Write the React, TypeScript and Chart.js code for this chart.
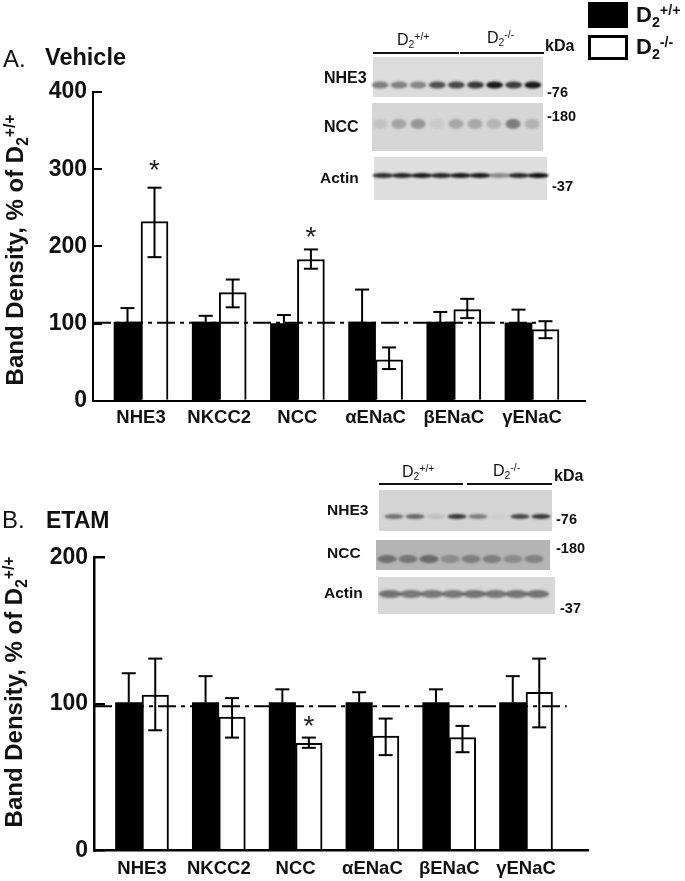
import React, { useEffect, useRef } from "react";
import { Chart, registerables } from "chart.js";

Chart.register(...registerables);

const categories = ["NHE3", "NKCC2", "NCC", "αENaC", "βENaC", "γENaC"];
const GENOTYPES = ["D2+/+", "D2-/-"];

// Panel A: Vehicle
const vehWild = [102, 102, 100, 102, 102, 101];
const vehWildUpper = [120, 110, 111, 144, 115, 118];
const vehKo = [232, 140, 183, 53, 118, 92];
const vehKoUpper = [276, 157, 196, 69, 132, 103];
const vehKoLower = [186, 121, 171, 41, 107, 81];
const vehTicks = [0, 100, 200, 300, 400];
const vehStars = [{ x: 0, y: 303 }, { x: 2, y: 216 }];

// Panel B: ETAM
const etamWild = [101, 101, 101, 101, 101, 101];
const etamWildUpper = [121, 119, 110, 108, 110, 119];
const etamKo = [106, 91, 73, 78, 77, 108];
const etamKoUpper = [131, 104, 77, 90, 85, 131];
const etamKoLower = [82, 77, 70, 65, 67, 84];
const etamTicks = [0, 100, 200];
const etamStars = [{ x: 2, y: 86.5 }];

// Western blot lane intensities (0 = no band, 1 = black)
const vehNhe3Lanes = [0.45, 0.45, 0.42, 0.68, 0.72, 0.8, 0.95, 0.78, 0.95];
const vehNccLanes = [0.1, 0.25, 0.32, 0.06, 0.24, 0.24, 0.16, 0.45, 0.18];
const vehActinLanes = [0.85, 0.9, 0.95, 0.9, 0.95, 0.95, 0.4, 0.88, 1];
const etamNhe3Lanes = [0.5, 0.55, 0.1, 0.8, 0.45, 0.03, 0.72, 0.8];
const etamNccLanes = [0.42, 0.38, 0.45, 0.25, 0.33, 0.33, 0.25, 0.3];
const etamActinLanes = [0.5, 0.48, 0.48, 0.48, 0.5, 0.48, 0.5, 0.5];

const FONT = "'Liberation Sans', Arial, sans-serif";

type Blot = { x: number; y: number; w: number; h: number; bg: string; bandY: number; bandH: number; bandW: number; first: number; step: number; lanes: number[] };

const vehBlots: Blot[] = [
  { x: 373, y: 57, w: 170, h: 40, bg: "#dcdcdc", bandY: 85, bandH: 7, bandW: 17, first: 380, step: 19.1, lanes: vehNhe3Lanes },
  { x: 372, y: 103, w: 171, h: 48, bg: "#d6d6d6", bandY: 124, bandH: 10, bandW: 15, first: 380, step: 19, lanes: vehNccLanes },
  { x: 374, y: 157, w: 173, h: 43, bg: "#dedede", bandY: 175.5, bandH: 5, bandW: 21, first: 383, step: 19.4, lanes: vehActinLanes },
];
const etamBlots: Blot[] = [
  { x: 379, y: 490, w: 173, h: 41, bg: "#d4d4d4", bandY: 516.5, bandH: 5, bandW: 19, first: 394, step: 21, lanes: etamNhe3Lanes },
  { x: 376, y: 540, w: 174, h: 30, bg: "#b4b4b4", bandY: 559, bandH: 8, bandW: 19, first: 387, step: 21, lanes: etamNccLanes },
  { x: 378, y: 577, w: 177, h: 37, bg: "#d8d8d8", bandY: 594, bandH: 8, bandW: 23, first: 390, step: 21.1, lanes: etamActinLanes },
];

type PanelProps = {
  top: number; height: number; left: number; right: number; plotTop: number; plotBottom: number;
  xMin: number; xMax: number; yMax: number; ticks: number[]; thickness: number; lineY: number; lineEnd: number;
  wild: number[]; wildUpper: number[]; ko: number[]; koUpper: number[]; koLower: number[];
  stars: { x: number; y: number }[]; blots: Blot[]; tickLen: number; labelPad: number; axisWidth: number;
};

function Panel(p: PanelProps) {
  const ref = useRef<HTMLCanvasElement>(null);
  useEffect(() => {
    const annotate = {
      id: "annotate",
      beforeDraw(chart: any) {
        const c = chart.ctx;
        c.save();
        c.translate(0, -p.top);
        for (const b of p.blots) {
          c.filter = "blur(0.7px)";
          c.fillStyle = b.bg;
          c.fillRect(b.x, b.y, b.w, b.h);
          c.filter = "blur(1.3px)";
          b.lanes.forEach((d, i) => {
            c.fillStyle = `rgba(15,15,15,${d})`;
            c.beginPath();
            c.ellipse(b.first + b.step * i, b.bandY, b.bandW / 2, b.bandH / 2, 0, 0, Math.PI * 2);
            c.fill();
          });
        }
        c.restore();
      },
      afterDatasetsDraw(chart: any) {
        const c = chart.ctx;
        const y = chart.scales.y;
        const cap = 7;
        const seg = (x1: number, y1: number, x2: number, y2: number) => {
          c.beginPath();
          c.moveTo(x1, y1);
          c.lineTo(x2, y2);
          c.stroke();
        };
        c.save();
        c.strokeStyle = "#000";
        c.lineWidth = 2;
        const wildBars = chart.getDatasetMeta(1).data;
        const koBars = chart.getDatasetMeta(2).data;
        p.wildUpper.forEach((v, i) => {
          const x = wildBars[i].x;
          const u = y.getPixelForValue(v);
          seg(x, y.getPixelForValue(p.wild[i]), x, u);
          seg(x - cap, u, x + cap, u);
        });
        p.koUpper.forEach((v, i) => {
          const x = koBars[i].x;
          const u = y.getPixelForValue(v);
          const l = y.getPixelForValue(p.koLower[i]);
          seg(x, l, x, u);
          seg(x - cap, u, x + cap, u);
          seg(x - cap, l, x + cap, l);
        });
        c.fillStyle = "#222";
        c.font = `28px ${FONT}`;
        c.textAlign = "center";
        c.textBaseline = "middle";
        for (const s of p.stars) c.fillText("*", koBars[s.x].x, y.getPixelForValue(s.y) + 4);
        c.restore();
      },
    };
    const chart = new Chart(ref.current!, {
      type: "bar",
      data: {
        datasets: [
          {
            type: "line",
            label: "100%",
            data: [{ x: p.xMin, y: p.lineY }, { x: p.lineEnd, y: p.lineY }],
            borderColor: "#000",
            borderWidth: 2,
            borderDash: [18, 5, 4, 5],
            pointRadius: 0,
            order: 0,
          },
          {
            label: GENOTYPES[0],
            data: p.wild.map((v, i) => ({ x: i, y: v })),
            backgroundColor: "#000",
            barThickness: p.thickness,
            order: 1,
          },
          {
            label: GENOTYPES[1],
            data: p.ko.map((v, i) => ({ x: i, y: v })),
            backgroundColor: "#fff",
            borderColor: "#000",
            borderWidth: 2,
            barThickness: p.thickness,
            order: 1,
          },
        ] as any,
      },
      options: {
        animation: false,
        responsive: false,
        devicePixelRatio: 1,
        layout: { padding: { left: 0, top: p.plotTop - p.top, right: 685 - p.right, bottom: 0 } },
        plugins: { legend: { display: false }, tooltip: { enabled: false }, title: { display: false } },
        scales: {
          x: {
            type: "linear",
            offset: false,
            min: p.xMin,
            max: p.xMax,
            afterFit: (s: any) => { s.height = p.top + p.height - p.plotBottom; },
            grid: { display: false, drawTicks: false, offset: false },
            border: { display: true, color: "#000", width: p.axisWidth },
            ticks: {
              stepSize: 1,
              includeBounds: false,
              autoSkip: false,
              maxRotation: 0,
              padding: p.labelPad,
              color: "#111",
              font: { family: FONT, size: 18.5, weight: "bold" },
              callback: (v: any) => categories[v] ?? "",
            },
          },
          y: {
            min: 0,
            max: p.yMax,
            afterFit: (s: any) => { s.width = p.left; },
            afterBuildTicks: (s: any) => { s.ticks = p.ticks.map((value) => ({ value })); },
            grid: { drawOnChartArea: false, tickLength: -p.tickLen, color: "#000", lineWidth: p.axisWidth },
            border: { display: true, color: "#000", width: p.axisWidth },
            ticks: { padding: p.tickLen + 6, color: "#111", font: { family: FONT, size: 23, weight: "bold" } },
          },
        },
      },
      plugins: [annotate],
    } as any);
    return () => chart.destroy();
  }, []);
  return <canvas ref={ref} width={685} height={p.height} style={{ position: "absolute", left: 0, top: p.top, display: "block" }} />;
}

function T(props: { x: number; y: number; size: number; bold?: boolean; children: React.ReactNode }) {
  return (
    <div style={{ position: "absolute", left: props.x, top: props.y, transform: "translateY(-50%)", fontFamily: FONT, fontSize: props.size, fontWeight: props.bold ? 700 : 400, lineHeight: 1, color: "#111", whiteSpace: "nowrap" }}>
      {props.children}
    </div>
  );
}

function D2({ sup }: { sup: string }) {
  return (
    <span>
      D
      <span style={{ fontSize: "0.65em", position: "relative", top: "0.32em" }}>2</span>
      <span style={{ fontSize: "0.65em", position: "relative", top: "-0.5em" }}>{sup}</span>
    </span>
  );
}

function YTitle({ x, y }: { x: number; y: number }) {
  return (
    <div style={{ position: "absolute", left: x, top: y, transform: "translate(-50%,-50%) rotate(-90deg)", fontFamily: FONT, fontSize: 24, fontWeight: 700, lineHeight: 1, color: "#111", whiteSpace: "nowrap" }}>
      Band Density, % of <D2 sup="+/+" />
    </div>
  );
}

function Rule({ x, y, w }: { x: number; y: number; w: number }) {
  return <div style={{ position: "absolute", left: x, top: y, width: w, height: 2, background: "#111" }} />;
}

export default function App() {
  useEffect(() => {
    document.body.style.margin = "0";
  }, []);
  return (
    <div style={{ position: "relative", width: 685, height: 881, background: "#fff", overflow: "hidden" }}>
      <Panel top={0} height={440} left={93} right={585} plotTop={92} plotBottom={400.7} xMin={-0.614} xMax={5.678} yMax={400} ticks={vehTicks} thickness={27} lineY={101} lineEnd={5.08} wild={vehWild} wildUpper={vehWildUpper} ko={vehKo} koUpper={vehKoUpper} koLower={vehKoLower} stars={vehStars} blots={vehBlots} tickLen={9} labelPad={6} axisWidth={2} />
      <Panel top={440} height={441} left={94} right={588} plotTop={557.7} plotBottom={851.7} xMin={-0.625} xMax={5.807} yMax={200} ticks={etamTicks} thickness={26.5} lineY={98.5} lineEnd={5.53} wild={etamWild} wildUpper={etamWildUpper} ko={etamKo} koUpper={etamKoUpper} koLower={etamKoLower} stars={etamStars} blots={etamBlots} tickLen={11} labelPad={8} axisWidth={2.5} />

      <T x={3} y={59} size={24}>A.</T>
      <T x={45} y={58} size={23.5} bold>Vehicle</T>
      <T x={2} y={520} size={24}>B.</T>
      <T x={46} y={520} size={23} bold>ETAM</T>
      <YTitle x={15} y={250} />
      <YTitle x={14} y={692} />

      <div style={{ position: "absolute", left: 588, top: 2, width: 40, height: 26, background: "#000" }} />
      <div style={{ position: "absolute", left: 588, top: 35, width: 40, height: 25, boxSizing: "border-box", border: "3px solid #000", background: "#fff" }} />
      <T x={636} y={15} size={22} bold><D2 sup="+/+" /></T>
      <T x={636} y={47} size={22} bold><D2 sup="-/-" /></T>

      <T x={397} y={40} size={16}><D2 sup="+/+" /></T>
      <T x={487} y={38} size={16}><D2 sup="-/-" /></T>
      <T x={545} y={46} size={16} bold>kDa</T>
      <Rule x={373} y={52} w={86} />
      <Rule x={460} y={52} w={84} />
      <T x={324} y={78} size={16} bold>NHE3</T>
      <T x={324} y={127} size={16} bold>NCC</T>
      <T x={320} y={178} size={15.5} bold>Actin</T>
      <T x={547} y={92} size={14.5} bold>-76</T>
      <T x={547} y={116} size={14.5} bold>-180</T>
      <T x={552} y={186} size={14.5} bold>-37</T>

      <T x={402} y={472} size={16}><D2 sup="+/+" /></T>
      <T x={493} y={471} size={16}><D2 sup="-/-" /></T>
      <T x={554} y={476} size={16} bold>kDa</T>
      <Rule x={379} y={483} w={84} />
      <Rule x={467} y={483} w={85} />
      <T x={327} y={510} size={15.5} bold>NHE3</T>
      <T x={327} y={553} size={15.5} bold>NCC</T>
      <T x={324} y={593} size={15.5} bold>Actin</T>
      <T x={556} y={519} size={14.5} bold>-76</T>
      <T x={556} y={548} size={14.5} bold>-180</T>
      <T x={560} y={608} size={14.5} bold>-37</T>
    </div>
  );
}
